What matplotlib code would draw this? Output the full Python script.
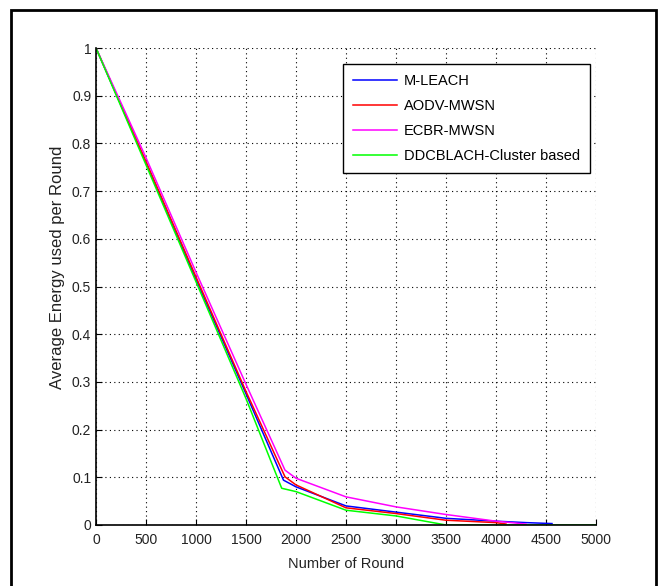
import matplotlib
matplotlib.use("Agg")
import matplotlib.pyplot as plt
from matplotlib.patches import Rectangle

# values
rounds_mleach = [0, 500, 1000, 1500, 1875, 2000, 2500, 3000, 3500, 4000, 4300, 4560]
energy_mleach = [1, 0.76, 0.515, 0.275, 0.094, 0.080, 0.040, 0.027, 0.014, 0.008, 0.005, 0.003]

rounds_aodv = [0, 500, 1000, 1500, 1890, 2000, 2500, 3000, 3500, 4000, 4100]
energy_aodv = [1, 0.762, 0.52, 0.28, 0.101, 0.084, 0.036, 0.024, 0.010, 0.005, 0.002]

rounds_ecbr = [0, 500, 1000, 1500, 1890, 2000, 2500, 3000, 3500, 4000, 4300]
energy_ecbr = [1, 0.77, 0.53, 0.295, 0.115, 0.098, 0.059, 0.038, 0.022, 0.008, 0.002]

rounds_ddcb = [0, 500, 1000, 1500, 1857, 2000, 2500, 3000, 3500, 5000]
energy_ddcb = [1, 0.755, 0.51, 0.265, 0.077, 0.070, 0.031, 0.019, 0.0, 0.0]

series_names = ["M-LEACH", "AODV-MWSN", "ECBR-MWSN", "DDCBLACH-Cluster based"]
x_ticks = [0, 500, 1000, 1500, 2000, 2500, 3000, 3500, 4000, 4500, 5000]
y_ticks = [0, 0.1, 0.2, 0.3, 0.4, 0.5, 0.6, 0.7, 0.8, 0.9, 1]

plt.rcParams["font.family"] = ["Liberation Sans", "DejaVu Sans"]
plt.rcParams["font.size"] = 10

fig = plt.figure(figsize=(6.65, 5.86), dpi=100)
ax = fig.add_axes([96 / 665, 1 - 525 / 586, 500 / 665, 477 / 586])

ax.plot(rounds_mleach, energy_mleach, color="#0000ff", lw=1.1, label=series_names[0])
ax.plot(rounds_aodv, energy_aodv, color="#ff0000", lw=1.1, label=series_names[1])
ax.plot(rounds_ecbr, energy_ecbr, color="#ff00ff", lw=1.1, label=series_names[2])
ax.plot(rounds_ddcb, energy_ddcb, color="#00ff00", lw=1.1, label=series_names[3])

ax.set_xlim(0, 5000)
ax.set_ylim(0, 1)
ax.set_xticks(x_ticks)
ax.set_yticks(y_ticks)
ax.set_yticklabels(["0", "0.1", "0.2", "0.3", "0.4", "0.5", "0.6", "0.7", "0.8", "0.9", "1"])
ax.tick_params(direction="in", length=4, width=0.8, colors="black", labelcolor="#222222")
ax.tick_params(axis="x", pad=6)
ax.grid(True, linestyle=(0, (1, 3)), color="black", linewidth=0.8)
ax.spines["top"].set_visible(False)
ax.spines["right"].set_visible(False)
ax.spines["left"].set_linewidth(1.2)
ax.spines["bottom"].set_linewidth(1.2)

ax.set_xlabel("Number of Round", color="#222222", fontsize=10.5, labelpad=7)
ax.set_ylabel("Average Energy used per Round", color="#222222", fontsize=12)
ax.yaxis.set_label_coords(-0.062, 0.54)

leg = ax.legend(loc="upper right", bbox_to_anchor=(494 / 500, 461 / 477),
                fancybox=False, framealpha=1, edgecolor="black",
                handlelength=3.0, handletextpad=0.45, borderpad=0.7,
                labelspacing=0.75, borderaxespad=0, fontsize=10.5)
leg.get_frame().set_linewidth(1.0)

# outer frame around the whole picture
fig.patches.append(Rectangle((11 / 665, -0.05), 645 / 665, 1.05 - 10 / 586,
                             transform=fig.transFigure, fill=False,
                             edgecolor="black", linewidth=2))

fig.savefig("out.png", dpi=100)
